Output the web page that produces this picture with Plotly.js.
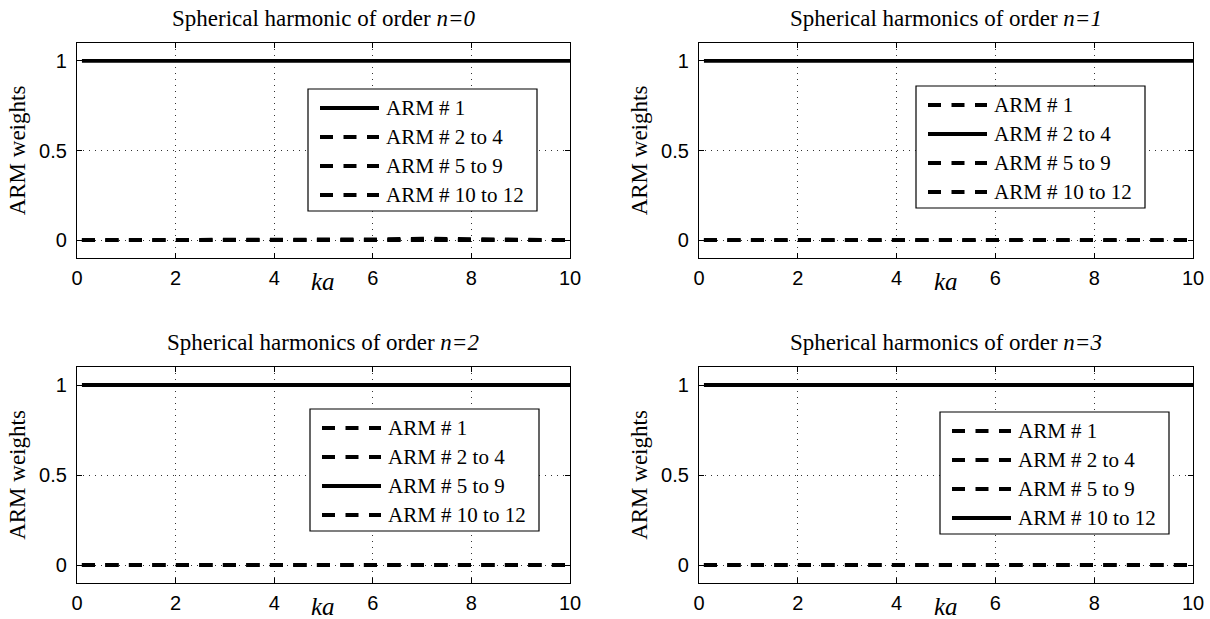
<!DOCTYPE html>
<html>
<head>
<meta charset="utf-8">
<script src="https://cdn.plot.ly/plotly-3.0.1.min.js"></script>
<style>html,body{margin:0;padding:0;background:#fff;}#chart{width:1210px;height:619px;}</style>
</head>
<body>
<div id="chart"></div>
<script>
// ---------- data ----------
const ka = [0.1, 1, 2, 3, 4, 5, 6, 7, 8, 9, 10];
const seriesNames = ["ARM # 1", "ARM # 2 to 4", "ARM # 5 to 9", "ARM # 10 to 12"];
const titles = [
  "Spherical harmonic of order <i>n=0</i>",
  "Spherical harmonics of order <i>n=1</i>",
  "Spherical harmonics of order <i>n=2</i>",
  "Spherical harmonics of order <i>n=3</i>"
];
// weights per order n, per ARM group
const n0_arm1    = [1, 1, 1, 1, 1, 1, 1, 1, 1, 1, 1];
const n0_arm2_4  = [0, 0, 0, 0, 0, 0, 0, 0, 0, 0, 0];
const n0_arm5_9  = [0, 0, 0, 0, 0, 0.001, 0.004, 0.008, 0.007, 0.002, 0];
const n0_arm10_12= [0, 0, 0, 0, 0, 0, 0, 0, 0, 0, 0];
const n1_arm1    = [0, 0, 0, 0, 0, 0, 0, 0, 0, 0, 0];
const n1_arm2_4  = [1, 1, 1, 1, 1, 1, 1, 1, 1, 1, 1];
const n1_arm5_9  = [0, 0, 0, 0, 0, 0, 0, 0, 0, 0, 0];
const n1_arm10_12= [0, 0, 0, 0, 0, 0, 0, 0, 0, 0, 0];
const n2_arm1    = [0, 0, 0, 0, 0, 0, 0, 0, 0, 0, 0];
const n2_arm2_4  = [0, 0, 0, 0, 0, 0, 0, 0, 0, 0, 0];
const n2_arm5_9  = [1, 1, 1, 1, 1, 1, 1, 1, 1, 1, 1];
const n2_arm10_12= [0, 0, 0, 0, 0, 0, 0, 0, 0, 0, 0];
const n3_arm1    = [0, 0, 0, 0, 0, 0, 0, 0, 0, 0, 0];
const n3_arm2_4  = [0, 0, 0, 0, 0, 0, 0, 0, 0, 0, 0];
const n3_arm5_9  = [0, 0, 0, 0, 0, 0, 0, 0, 0, 0, 0];
const n3_arm10_12= [1, 1, 1, 1, 1, 1, 1, 1, 1, 1, 1];
const activeIndex = [0, 1, 2, 3]; // which ARM group is drawn solid in each panel
const xTicks = [0, 2, 4, 6, 8, 10];
const yTicks = [0, 0.5, 1];

const panels = [
  [n0_arm1, n0_arm2_4, n0_arm5_9, n0_arm10_12],
  [n1_arm1, n1_arm2_4, n1_arm5_9, n1_arm10_12],
  [n2_arm1, n2_arm2_4, n2_arm5_9, n2_arm10_12],
  [n3_arm1, n3_arm2_4, n3_arm5_9, n3_arm10_12]
];

// ---------- layout geometry (pixels) ----------
const W = 1210, H = 619;
const px = v => v / W;
const py = v => 1 - v / H;
const plotBoxes = [ // [left, top, right, bottom] in px
  [77, 43, 570, 258],
  [699, 43, 1193, 258],
  [77, 367, 570, 583],
  [699, 367, 1193, 583]
];
const legendPos = [[308, 89], [916, 86], [310, 409], [940, 412]];
const serif = "Liberation Serif, Times New Roman, serif";
const sans = "Liberation Sans, Arial, Helvetica, sans-serif";
const DASH = "13px,10.5px";

const traces = [];
const layout = {
  width: W, height: H,
  margin: {l: 0, r: 0, t: 0, b: 0},
  paper_bgcolor: "#fff", plot_bgcolor: "#fff",
  showlegend: false,
  shapes: [], annotations: []
};

panels.forEach((series, p) => {
  const sfx = p === 0 ? "" : String(p + 1);
  const [L, T, R, B] = plotBoxes[p];
  series.forEach((vals, i) => {
    traces.push({
      type: "scatter", mode: "lines",
      x: ka, y: vals, name: seriesNames[i],
      xaxis: "x" + sfx, yaxis: "y" + sfx,
      line: {color: "#000", width: 3.8, dash: i === activeIndex[p] ? "solid" : DASH},
      hoverinfo: "x+y+name"
    });
  });
  const common = {
    showline: true, mirror: "ticks", linecolor: "#000", linewidth: 1.3,
    ticks: "inside", ticklen: 5, tickcolor: "#000", tickwidth: 1,
    showgrid: true, gridcolor: "#333", griddash: "1px,5px", gridwidth: 1,
    zeroline: false, tickfont: {family: sans, size: 20, color: "#000"},
    ticklabelstandoff: 2
  };
  layout["xaxis" + sfx] = Object.assign({}, common, {
    domain: [px(L), px(R)], range: [0, 10], anchor: "y" + sfx,
    tickvals: xTicks, ticktext: xTicks.map(String)
  });
  layout["yaxis" + sfx] = Object.assign({}, common, {
    domain: [py(B), py(T)], range: [-0.1, 1.1], anchor: "x" + sfx,
    tickvals: yTicks, ticktext: yTicks.map(String), ticklabelstandoff: 5,
    title: {text: "ARM weights", font: {family: serif, size: 23, color: "#000"}, standoff: 6}
  });
  // subplot title
  layout.annotations.push({
    text: titles[p], xref: "paper", yref: "paper",
    x: px((L + R) / 2), y: py(T - 25), xanchor: "center", yanchor: "middle",
    showarrow: false, font: {family: serif, size: 23, color: "#000"}
  });
  // x axis label
  layout.annotations.push({
    text: "<i>ka</i>", xref: "paper", yref: "paper",
    x: px(L + (R - L) * 0.5), y: py(B + 23), xanchor: "center", yanchor: "middle",
    showarrow: false, font: {family: serif, size: 25, color: "#000"}
  });
  // legend box
  const [lx, ly] = legendPos[p];
  layout.shapes.push({
    type: "rect", xref: "paper", yref: "paper",
    x0: px(lx), x1: px(lx + 229), y0: py(ly), y1: py(ly + 122),
    line: {color: "#000", width: 1.2}, fillcolor: "#fff", layer: "above"
  });
  const rowOff = [19, 48, 77, 106];
  seriesNames.forEach((nm, i) => {
    const yy = ly + rowOff[i];
    layout.shapes.push({
      type: "line", xref: "paper", yref: "paper",
      x0: px(lx + 12), x1: px(lx + 71), y0: py(yy), y1: py(yy),
      line: {color: "#000", width: 3.8, dash: i === activeIndex[p] ? "solid" : DASH},
      layer: "above"
    });
    layout.annotations.push({
      text: nm, xref: "paper", yref: "paper",
      x: px(lx + 76), y: py(yy), xanchor: "left", yanchor: "middle",
      showarrow: false, font: {family: serif, size: 21, color: "#000"}
    });
  });
});

Plotly.newPlot("chart", traces, layout, {displayModeBar: false});
</script>
</body>
</html>
